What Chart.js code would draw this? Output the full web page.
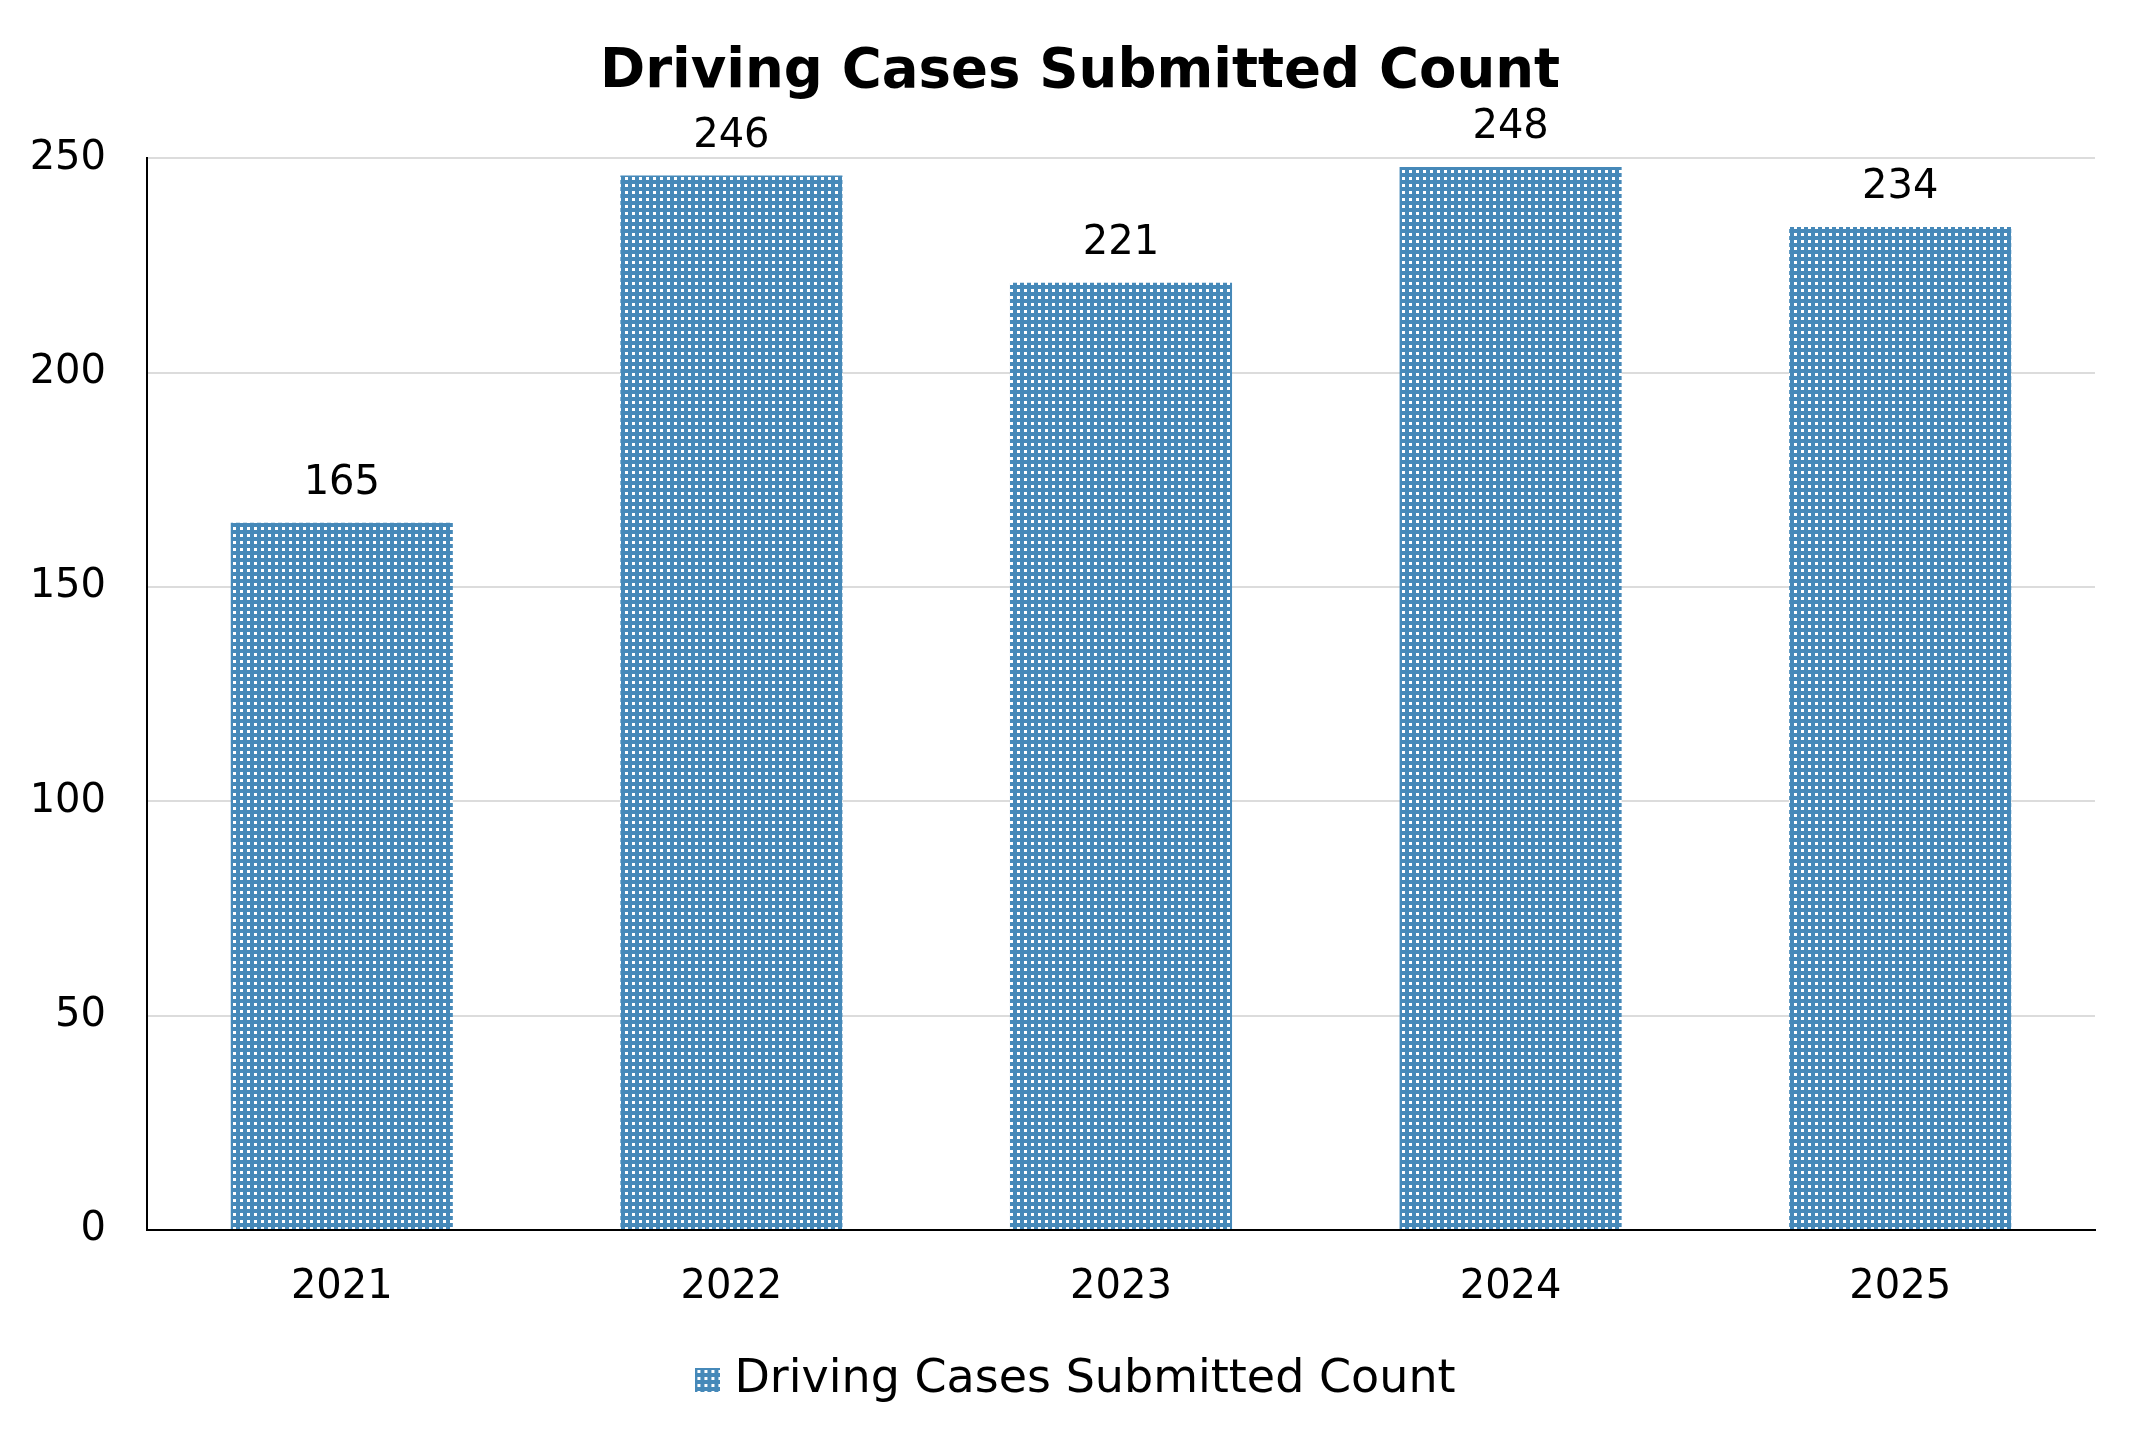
<!DOCTYPE html>
<html>
<head>
<meta charset="utf-8">
<script src="https://cdn.jsdelivr.net/npm/chart.js@4.4.1/dist/chart.umd.min.js"></script>
<style>
  html, body { margin:0; padding:0; background:#fff; }
  #wrap { width:2145px; height:1452px; }
</style>
</head>
<body>
<div id="wrap"><canvas id="chart" width="2145" height="1452"></canvas></div>
<script>
// data
const years  = ['2021', '2022', '2023', '2024', '2025'];
const counts = [165, 246, 221, 248, 234];
const seriesName = 'Driving Cases Submitted Count';
const yTicks = [0, 50, 100, 150, 200, 250];

const FONT = "'DejaVu Sans', Verdana, sans-serif";
const BLUE = '#4689b9';

// dotted tile: blue with a small white square
function dotTile() {
  const c = document.createElement('canvas');
  c.width = 7; c.height = 7;
  const g = c.getContext('2d');
  g.fillStyle = BLUE;
  g.fillRect(0, 0, 7, 7);
  g.fillStyle = '#ffffff';
  g.fillRect(2, 2, 3, 3);
  return c;
}

const tile = dotTile();
const fill = tile.getContext('2d').createPattern(tile, 'repeat');

// legend swatch, same fill
function legendSwatch() {
  const c = document.createElement('canvas');
  c.width = 25; c.height = 24;
  const g = c.getContext('2d');
  g.fillStyle = g.createPattern(tile, 'repeat');
  g.fillRect(0, 0, 25, 24);
  return c;
}

// value labels above bars
const valueLabels = {
  id: 'valueLabels',
  afterDatasetsDraw(chart) {
    const { ctx } = chart;
    const meta = chart.getDatasetMeta(0);
    ctx.save();
    ctx.font = `40px ${FONT}`;
    ctx.fillStyle = '#000';
    ctx.textAlign = 'center';
    ctx.textBaseline = 'alphabetic';
    meta.data.forEach((bar, i) => {
      ctx.fillText(String(counts[i]), bar.x, bar.y - 29);
    });
    ctx.restore();
  }
};

new Chart(document.getElementById('chart'), {
  type: 'bar',
  data: {
    labels: years,
    datasets: [{
      label: seriesName,
      data: counts,
      backgroundColor: fill,
      borderWidth: 0,
      barPercentage: 0.57,
      categoryPercentage: 1
    }]
  },
  options: {
    responsive: false,
    animation: false,
    devicePixelRatio: 1,
    layout: { padding: { left: 15, right: 0, top: 0, bottom: 39 } },
    plugins: {
      title: {
        display: true,
        text: seriesName,
        color: '#000',
        font: { family: FONT, size: 54.5, weight: 'bold' },
        padding: { top: 40, bottom: 53 }
      },
      legend: {
        position: 'bottom',
        labels: {
          color: '#000',
          font: { family: FONT, size: 46 },
          usePointStyle: true,
          pointStyle: legendSwatch(),
          boxWidth: 7,
          boxHeight: 24,
          padding: 5
        }
      },
      tooltip: { enabled: false }
    },
    scales: {
      x: {
        afterFit(scale) { scale.height = 122; },
        grid: { display: false, drawTicks: false },
        border: { display: true, color: '#000', width: 2 },
        ticks: { color: '#000', font: { family: FONT, size: 40 }, padding: 34 }
      },
      y: {
        min: 0,
        max: 250,
        afterBuildTicks(scale) { scale.ticks = yTicks.map(v => ({ value: v })); },
        afterFit(scale) { scale.width = 132; },
        grid: { color: '#dcdcdc', lineWidth: 2, drawTicks: false },
        border: { display: true, color: '#000', width: 2 },
        ticks: { color: '#000', font: { family: FONT, size: 40 }, padding: 41 }
      },
      // empty strip keeping the right margin
      yRight: {
        position: 'right',
        min: 0,
        max: 250,
        afterFit(scale) { scale.width = 50; },
        grid: { display: false, drawTicks: false },
        border: { display: false },
        ticks: { display: false }
      }
    }
  },
  plugins: [valueLabels]
});
</script>
</body>
</html>
